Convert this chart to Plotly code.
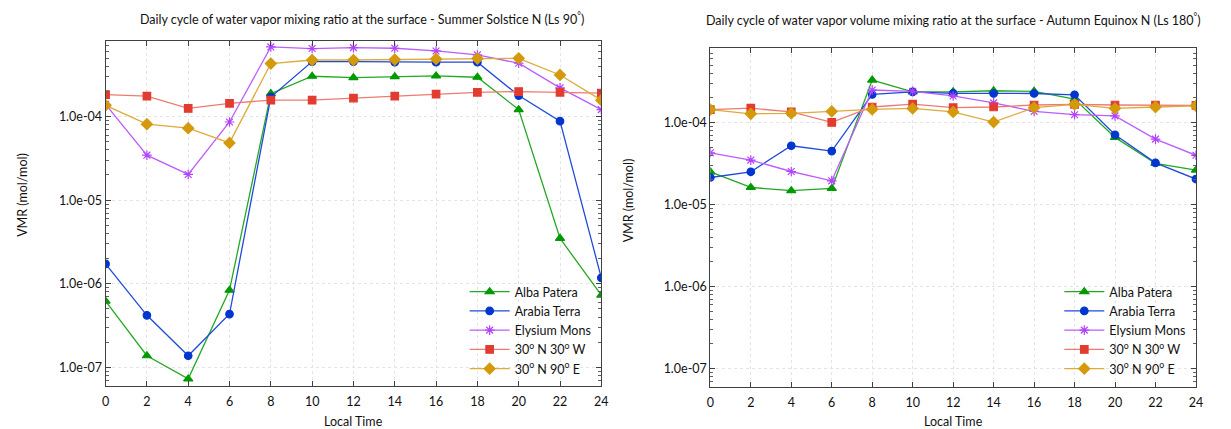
import plotly.graph_objects as go

# ---------------- data ----------------
local_time = [0, 2, 4, 6, 8, 10, 12, 14, 16, 18, 20, 22, 24]

series_names = ["Alba Patera", "Arabia Terra", "Elysium Mons",
                "30<sup>o</sup> N 30<sup>o</sup> W", "30<sup>o</sup> N 90<sup>o</sup> E"]

# Summer Solstice N (Ls 90)
summer_alba = [6.2e-7, 1.38e-7, 7.3e-8, 8.4e-7, 1.88e-4, 3.03e-4, 2.92e-4, 3.0e-4, 3.06e-4, 2.95e-4, 1.21e-4, 3.5e-6, 7.3e-7]
summer_arabia = [1.73e-6, 4.2e-7, 1.38e-7, 4.35e-7, 1.71e-4, 4.54e-4, 4.54e-4, 4.47e-4, 4.47e-4, 4.47e-4, 1.78e-4, 8.8e-5, 1.18e-6]
summer_elysium = [1.40e-4, 3.45e-5, 2.03e-5, 8.6e-5, 6.8e-4, 6.5e-4, 6.67e-4, 6.55e-4, 6.08e-4, 5.45e-4, 4.34e-4, 2.2e-4, 1.21e-4]
summer_30n30w = [1.83e-4, 1.75e-4, 1.25e-4, 1.44e-4, 1.57e-4, 1.57e-4, 1.66e-4, 1.75e-4, 1.85e-4, 1.95e-4, 1.99e-4, 1.95e-4, 1.9e-4]
summer_30n90e = [1.36e-4, 8.1e-5, 7.25e-5, 4.84e-5, 4.3e-4, 4.74e-4, 4.74e-4, 4.8e-4, 4.88e-4, 4.93e-4, 4.97e-4, 3.14e-4, 1.57e-4]

# Autumn Equinox N (Ls 180)
autumn_alba = [2.5e-5, 1.61e-5, 1.47e-5, 1.57e-5, 3.28e-4, 2.36e-4, 2.36e-4, 2.43e-4, 2.39e-4, 1.92e-4, 6.56e-5, 3.16e-5, 2.62e-5]
autumn_arabia = [2.13e-5, 2.5e-5, 5.19e-5, 4.47e-5, 2.19e-4, 2.36e-4, 2.26e-4, 2.25e-4, 2.25e-4, 2.17e-4, 7.06e-5, 3.21e-5, 2.04e-5]
autumn_elysium = [4.26e-5, 3.47e-5, 2.52e-5, 1.94e-5, 2.48e-4, 2.39e-4, 2.1e-4, 1.73e-4, 1.36e-4, 1.24e-4, 1.2e-4, 6.25e-5, 3.97e-5]
autumn_30n30w = [1.43e-4, 1.49e-4, 1.34e-4, 1.0e-4, 1.54e-4, 1.67e-4, 1.51e-4, 1.54e-4, 1.63e-4, 1.66e-4, 1.63e-4, 1.63e-4, 1.61e-4]
autumn_30n90e = [1.43e-4, 1.27e-4, 1.29e-4, 1.36e-4, 1.44e-4, 1.48e-4, 1.34e-4, 1.01e-4, 1.51e-4, 1.66e-4, 1.48e-4, 1.54e-4, 1.59e-4]

x_ticks = [0, 2, 4, 6, 8, 10, 12, 14, 16, 18, 20, 22, 24]
y_ticks = [1e-7, 1e-6, 1e-5, 1e-4]
y_ticktext = ["1.0e-07", "1.0e-06", "1.0e-05", "1.0e-04"]

titles = ["Daily cycle of water vapor mixing ratio at the surface - Summer Solstice N (Ls 90<sup>°</sup>)",
          "Daily cycle of water vapor volume mixing ratio at the surface - Autumn Equinox N (Ls 180<sup>°</sup>)"]

# ---------------- styles ----------------
marker_colors = ["#009a00", "#0036d0", "#b342ff", "#e23b30", "#d49a0c"]
line_colors = ["#22a822", "#1f4bd8", "#bd5cff", "#ee7a72", "#deaa3a"]
symbols = ["triangle-up", "circle", "asterisk-open", "square", "diamond"]
sizes = [8, 7.5, 8, 7.5, 8.5]

FONT = "Lato, 'Open Sans', sans-serif"
W, H = 1231, 429

fig = go.Figure()

panels = [
    ([summer_alba, summer_arabia, summer_elysium, summer_30n30w, summer_30n90e], "x", "y", "legend"),
    ([autumn_alba, autumn_arabia, autumn_elysium, autumn_30n30w, autumn_30n90e], "x2", "y2", "legend2"),
]

for values, xa, ya, lg in panels:
    for i, vals in enumerate(values):
        fig.add_trace(go.Scatter(
            x=local_time, y=vals, mode="lines+markers", name=series_names[i],
            xaxis=xa, yaxis=ya, legend=lg,
            line=dict(color=line_colors[i], width=1.3),
            marker=dict(symbol=symbols[i], size=sizes[i], color=marker_colors[i],
                        line=dict(color=marker_colors[i], width=1.2)),
        ))

# minor ticks for log axis (2..9 per decade)
minor_vals = []
for e in range(-8, -2):
    for m in range(2, 10):
        v = m * 10.0 ** e
        if 6e-8 <= v <= 8e-4:
            minor_vals.append(v)

ylo, yhi = -7.2218, -3.0969

def px_x(a, b):
    return [a / W, b / W]

def px_y(top, bottom):
    return [(H - bottom) / H, (H - top) / H]

common_x = dict(range=[0, 24], tickmode="array", tickvals=x_ticks,
                ticks="inside", ticklen=5, tickcolor="#404040",
                showline=True, linecolor="#404040", linewidth=1, mirror="allticks",
                showgrid=True, gridcolor="#e4e4e4", griddash="dot", gridwidth=1,
                zeroline=False, ticklabelstandoff=4,
                tickfont=dict(family=FONT, size=12.5, color="#111"))
common_y = dict(type="log", range=[ylo, yhi], tickmode="array", tickvals=y_ticks,
                ticktext=y_ticktext,
                ticks="inside", ticklen=5, tickcolor="#404040",
                showline=True, linecolor="#404040", linewidth=1, mirror="allticks",
                showgrid=True, gridcolor="#e4e4e4", griddash="dot", gridwidth=1,
                zeroline=False, tickfont=dict(family=FONT, size=12.5, color="#111"),
                minor=dict(tickmode="array", tickvals=minor_vals, ticks="inside",
                           ticklen=3, tickcolor="#606060", showgrid=False))

L_x = px_x(102.5, 602.7)
R_x = px_x(712.7, 1202.7)
L_y = px_y(41, 386)
R_y = px_y(48.3, 386.7)

legend_common = dict(bgcolor="rgba(255,255,255,0)", borderwidth=0,
                     font=dict(family=FONT, size=12.5, color="#111"),
                     xanchor="right", yanchor="bottom", tracegroupgap=0,
                     itemwidth=40)

fig.update_layout(
    width=W, height=H, margin=dict(l=0, r=0, t=0, b=0),
    paper_bgcolor="white", plot_bgcolor="white",
    font=dict(family=FONT, size=12.5, color="#111"),
    xaxis=dict(domain=L_x, anchor="y", **common_x),
    yaxis=dict(domain=L_y, anchor="x", **common_y),
    xaxis2=dict(domain=R_x, anchor="y2", **common_x),
    yaxis2=dict(domain=R_y, anchor="x2", **common_y),
    legend=dict(x=(598) / W, y=(H - 384) / H, **legend_common),
    legend2=dict(x=(1198) / W, y=(H - 384) / H, **legend_common),
    showlegend=True,
)

ann = []
# titles
ann.append(dict(text=titles[0], x=361 / W, y=(H - 18) / H, xref="paper", yref="paper",
                showarrow=False, xanchor="center", yanchor="middle",
                font=dict(family=FONT, size=12.5, color="#111")))
ann.append(dict(text=titles[1], x=958 / W, y=(H - 19) / H, xref="paper", yref="paper",
                showarrow=False, xanchor="center", yanchor="middle",
                font=dict(family=FONT, size=12.5, color="#111")))
# axis titles
for cx in (352.6, 957.7):
    ann.append(dict(text="Local Time", x=cx / W, y=(H - 421) / H, xref="paper", yref="paper",
                    showarrow=False, xanchor="center", yanchor="middle",
                    font=dict(family=FONT, size=12.5, color="#111")))
for cx, cy in ((18, 195), (630, 200)):
    ann.append(dict(text="VMR (mol/mol)", x=cx / W, y=(H - cy) / H, xref="paper", yref="paper",
                    showarrow=False, xanchor="center", yanchor="middle", textangle=-90,
                    font=dict(family=FONT, size=12.5, color="#111")))
fig.update_layout(annotations=ann)

fig.write_html("out.html")
